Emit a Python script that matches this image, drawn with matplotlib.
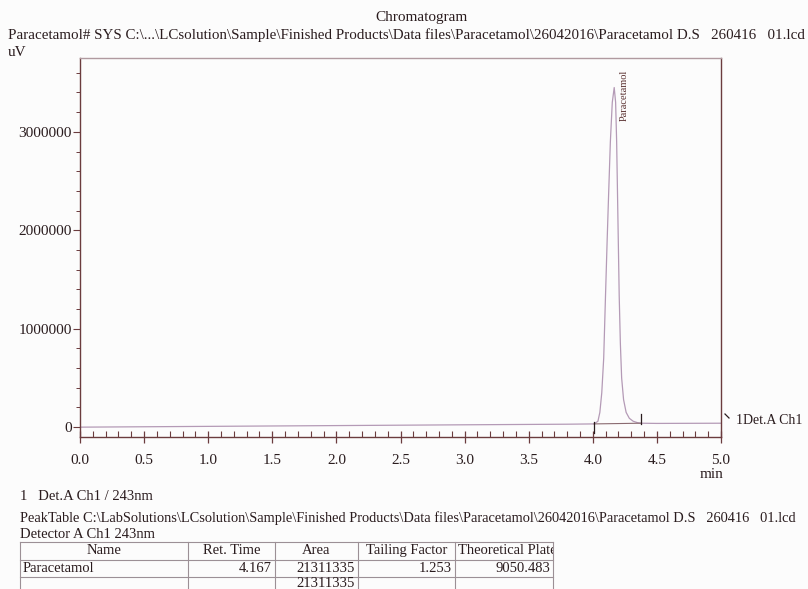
import matplotlib.pyplot as plt
from matplotlib.ticker import MultipleLocator, FuncFormatter
from matplotlib.lines import Line2D
from matplotlib.patches import Rectangle

plt.rcParams['font.family'] = ['Liberation Serif', 'DejaVu Serif']

# Det.A Ch1 243nm trace (min, uV)
time_min = [0.0, 1.0, 2.0, 3.0, 3.8, 4.010, 4.040, 4.055, 4.070, 4.085,
            4.099, 4.112, 4.123, 4.137, 4.152, 4.167, 4.178, 4.186, 4.193,
            4.200, 4.206, 4.215, 4.225, 4.240, 4.260, 4.285, 4.315, 4.350,
            4.375, 4.500, 5.000]
signal_uv = [0, 8000, 16000, 24000, 30000, 33000, 60000, 150000, 350000,
             700000, 1330000, 1900000, 2350000, 2900000, 3300000, 3450000,
             3300000, 2900000, 2350000, 1800000, 1330000, 850000, 500000,
             280000, 150000, 90000, 60000, 45000, 40000, 38000, 40000]

peak_name = 'Paracetamol'
peak_start = 4.010
peak_end = 4.375

# peak table
table_header = ['Name', 'Ret. Time', 'Area', 'Tailing Factor', 'Theoretical Plates']
ret_time = ['4.167']
area = ['21311335']
area_total = '21311335'
tailing = ['1.253']
plates = ['9050.483']

header_line = ('Paracetamol# SYS C:\\...\\LCsolution\\Sample\\Finished Products\\Data files'
               '\\Paracetamol\\26042016\\Paracetamol D.S   260416   01.lcd')
table_path = ('PeakTable C:\\LabSolutions\\LCsolution\\Sample\\Finished Products\\Data files'
              '\\Paracetamol\\26042016\\Paracetamol D.S   260416   01.lcd')

W, H = 808, 589
ink = '#2a1c1e'
frame = '#6b3c3e'
trace = '#b49ab6'
grid_c = '#9c9096'

fig = plt.figure(figsize=(W / 100, H / 100), dpi=100)
fig.patch.set_facecolor('#fcfcfc')


def fx(px):
    return px / W


def fy(py):
    return 1 - py / H


ax = fig.add_axes([fx(80), fy(437), fx(721) - fx(80), fy(58) - fy(437)])
ax.set_facecolor('#fcfcfc')
ax.plot(time_min, signal_uv, color=trace, lw=0.9)

# integration baseline and start/end marks
i0 = time_min.index(peak_start)
i1 = time_min.index(peak_end)
ax.plot([peak_start, peak_end], [signal_uv[i0], signal_uv[i1]], color='#8a6a70', lw=0.8)
ax.plot([peak_start, peak_start], [signal_uv[i0] - 90000, signal_uv[i0] + 20000],
        color=ink, lw=0.9)
ax.plot([peak_end, peak_end], [signal_uv[i1] - 10000, signal_uv[i1] + 90000],
        color=ink, lw=0.9)

ipk = time_min.index(4.167)
ax.text(time_min[ipk] + 0.075, signal_uv[ipk] - 80000, peak_name, rotation=90,
        ha='center', va='center', fontsize=7.5, color='#5a3030')

ax.set_xlim(0, 5)
ax.set_ylim(-100000, 3750000)
ax.xaxis.set_major_locator(MultipleLocator(0.5))
ax.xaxis.set_minor_locator(MultipleLocator(0.1))
ax.yaxis.set_major_locator(MultipleLocator(1000000))
ax.yaxis.set_minor_locator(MultipleLocator(200000))
ax.xaxis.set_major_formatter(FuncFormatter(lambda v, p: f'{v:.1f}'))
ax.yaxis.set_major_formatter(FuncFormatter(lambda v, p: f'{int(v)}'))
ax.tick_params(axis='x', which='major', direction='inout', length=8, width=0.9,
               colors=frame, labelcolor=ink, labelsize=11, pad=8)
ax.tick_params(axis='x', which='minor', direction='in', length=4, width=0.8, colors=frame)
ax.tick_params(axis='y', which='major', direction='out', length=5, width=0.8,
               colors=frame, labelcolor=ink, labelsize=11, pad=1)
ax.tick_params(axis='y', which='minor', direction='out', length=3, width=0.7, colors=frame)
ax.spines['left'].set_color(frame)
ax.spines['bottom'].set_color(frame)
ax.spines['right'].set_color(frame)
ax.spines['top'].set_color('#b09aa0')
for s in ax.spines.values():
    s.set_linewidth(1.0)

# titles and axis captions
fig.text(fx(421), fy(17), 'Chromatogram', ha='center', va='center', fontsize=11, color=ink)
fig.text(fx(8), fy(35), header_line, ha='left', va='center', fontsize=10.8, color=ink)
fig.text(fx(8), fy(52), 'uV', ha='left', va='center', fontsize=11, color=ink)
fig.text(fx(712), fy(474), 'min', ha='center', va='center', fontsize=11, color=ink)
fig.text(fx(736), fy(421), '1Det.A Ch1', ha='left', va='center', fontsize=10, color=ink)
fig.add_artist(Line2D([fx(725), fx(729)], [fy(414), fy(418)], transform=fig.transFigure,
                      color=ink, lw=0.9))

# peak table block
fig.text(fx(20), fy(497), '1   Det.A Ch1 / 243nm', ha='left', va='center', fontsize=10.5, color=ink)
fig.text(fx(20), fy(518), table_path, ha='left', va='center', fontsize=10.35, color=ink)
fig.text(fx(20), fy(535), 'Detector A Ch1 243nm', ha='left', va='center', fontsize=10.5, color=ink)

col_x = [20, 188, 275, 358, 455, 553]
row_y = [542, 560, 577, 589]
for x in col_x:
    fig.add_artist(Line2D([fx(x), fx(x)], [fy(row_y[0]), fy(row_y[-1])],
                          transform=fig.transFigure, color=grid_c, lw=0.8))
for y in row_y[:3]:
    fig.add_artist(Line2D([fx(col_x[0]), fx(col_x[-1])], [fy(y), fy(y)],
                          transform=fig.transFigure, color=grid_c, lw=0.8))

clip = Rectangle((fx(col_x[0]), fy(row_y[-1])), fx(col_x[-1]) - fx(col_x[0]),
                 fy(row_y[0]) - fy(row_y[-1]), transform=fig.transFigure, visible=False)
fig.add_artist(clip)
for i, name in enumerate(table_header):
    xc = (col_x[i] + col_x[i + 1]) / 2
    t = fig.text(fx(xc + (6 if i == 4 else 0)), fy(550.5), name, ha='center', va='center',
                 fontsize=10.5, color=ink)
    t.set_clip_path(clip)

row_vals = [[peak_name], ret_time, area, tailing, plates]
for i, vals in enumerate(row_vals):
    if i == 0:
        fig.text(fx(col_x[0] + 3), fy(569), vals[0], ha='left', va='center',
                 fontsize=10.5, color=ink)
    else:
        fig.text(fx(col_x[i + 1] - 3), fy(568), vals[0], ha='right',
                 va='center', fontsize=10.5, color=ink)
fig.text(fx(col_x[3] - 3), fy(583.5), area_total, ha='right', va='center', fontsize=10.5, color=ink)

fig.savefig('out.png', dpi=100, facecolor=fig.get_facecolor())
